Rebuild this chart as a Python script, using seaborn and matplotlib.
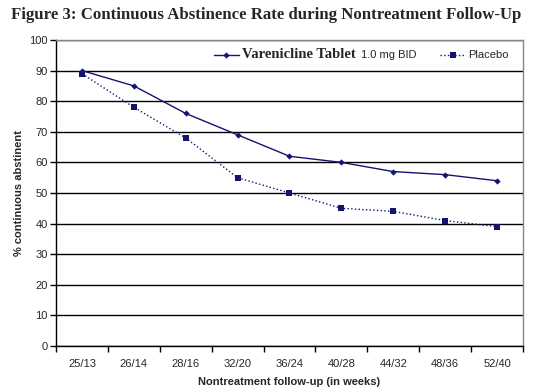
import seaborn as sns
import matplotlib.pyplot as plt
import pandas as pd

weeks = ['25/13', '26/14', '28/16', '32/20', '36/24', '40/28', '44/32', '48/36', '52/40']
varenicline = [90, 85, 76, 69, 62, 60, 57, 56, 54]
placebo = [89, 78, 68, 55, 50, 45, 44, 41, 39]

navy = '#141470'

sns.set_style('white')
plt.rcParams['font.family'] = ['Liberation Sans', 'DejaVu Sans']

df = pd.DataFrame({'week': weeks, 'var': varenicline, 'pla': placebo})

fig = plt.figure(figsize=(5.4, 3.92), dpi=100)
ax = fig.add_axes([0.1037, 0.1173, 0.8648, 0.7807])

sns.lineplot(data=df, x='week', y='var', ax=ax, color=navy, linewidth=1,
             marker='D', markersize=3.2, markeredgewidth=0, sort=False,
             label='Varenicline Tablet')
sns.lineplot(data=df, x='week', y='pla', ax=ax, color=navy, linewidth=1,
             linestyle=':', marker='s', markersize=4.5, markeredgewidth=0,
             sort=False, label='Placebo')

ax.set_xlim(-0.5, len(weeks) - 0.5)
ax.set_ylim(0, 100)
ax.set_yticks(range(0, 101, 10))
ax.yaxis.grid(True, color='black', linewidth=1)
ax.set_axisbelow(True)
ax.set_xticks(range(len(weeks)))
ax.set_xticklabels(weeks, fontsize=8)
ax.set_xticks([i - 0.5 for i in range(len(weeks) + 1)], minor=True)
ax.tick_params(axis='x', which='major', length=0, pad=9)
ax.tick_params(axis='x', which='minor', length=4, width=1, color='black', direction='out', bottom=True)
ax.tick_params(axis='y', length=4, width=1, color='black', direction='out', left=True, labelsize=8, pad=2)

for side in ['top', 'right']:
    ax.spines[side].set_color('#888888')
    ax.spines[side].set_linewidth(1)
for side in ['left', 'bottom']:
    ax.spines[side].set_color('black')
    ax.spines[side].set_linewidth(1)

ax.set_xlabel('Nontreatment follow-up (in weeks)', fontsize=8, fontweight='bold', labelpad=6)
ax.set_ylabel('% continuous abstinent', fontsize=8, fontweight='bold', labelpad=4)

leg = ax.legend(loc='center right', bbox_to_anchor=(0.97, 0.951), ncol=2, frameon=False,
                fontsize=8, handlelength=2.25, handletextpad=0.3, columnspacing=7.6,
                borderaxespad=0, borderpad=0)
t0 = leg.get_texts()[0]
t0.set_fontsize(10.5)
t0.set_fontweight('bold')
t0.set_fontfamily('Liberation Serif')
# drawn after the legend so the label's position is known
ax.annotate('1.0 mg BID', xy=(1, 0.5), xycoords=t0, xytext=(4, 0),
            textcoords='offset points', ha='left', va='center', fontsize=8, zorder=10)

fig.text(0.492, 0.963, 'Figure 3: Continuous Abstinence Rate during Nontreatment Follow-Up',
         ha='center', va='center', fontsize=12.1, fontweight='bold', family='Liberation Serif')

plt.savefig('out.png', dpi=100)
